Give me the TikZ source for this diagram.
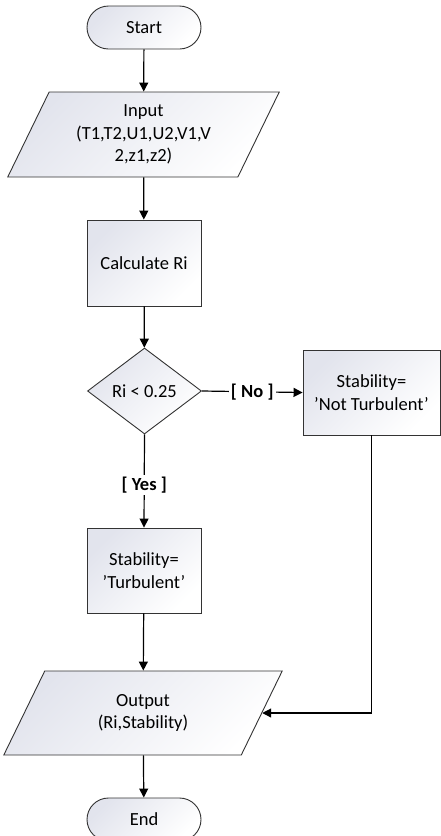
\documentclass[tikz,border=0pt]{standalone}
\usepackage{fontspec}
\setmainfont{Carlito}
\usetikzlibrary{arrows.meta,shapes.geometric,shapes.misc}
\definecolor{shade-fc}{RGB}{226,228,237}

\begin{document}
\begin{tikzpicture}[x=1pt, y=-1pt, >={Triangle[length=9pt,width=9pt]}, font=\fontsize{18.5}{22.5}\selectfont,
	   t/.style={draw=black!80, line width=0.9pt, rounded rectangle, top color=shade-fc, bottom color=white, shading angle=45, inner sep=0pt, minimum width=114pt, minimum height=43pt},
	   p/.style={draw=black!80, line width=0.9pt, rectangle, top color=shade-fc, bottom color=white, shading angle=45, align=center, inner sep=0pt, minimum width=114pt, minimum height=86pt},
	   io/.style={draw=black!80, line width=0.9pt, trapezium, trapezium left angle=64, trapezium right angle=116, top color=shade-fc, bottom color=white, shading angle=45, align=center, inner sep=1pt, minimum height=85pt},
	   d/.style={draw=black!80, line width=0.9pt, diamond, top color=shade-fc, bottom color=white, shading angle=45, inner sep=0pt, minimum width=114pt, minimum height=86pt},
	   lbl/.style={fill=white, font=\fontsize{18.5}{22.5}\selectfont\bfseries, inner sep=2pt}]
	  \useasboundingbox (0,0) rectangle (441,836);
	  \node[t] (start) at (144,27.5) {Start};
	  \node[io, minimum width=269pt] (in) at (143.5,134.5) {Input\\(T1,T2,U1,U2,V1,V\\2,z1,z2)};
	  \node[p] (calc) at (144,263) {Calculate Ri};
	  \node[d] (cond) at (144.5,391) {Ri < 0.25};
	  \node[p, minimum width=137pt, minimum height=85pt] (notturb) at (371.5,392.5) {Stability=\\’Not Turbulent’};
	  \node[p, minimum height=85pt] (turb) at (144,570.5) {Stability=\\’Turbulent’};
	  \node[io, minimum width=232pt, minimum height=84pt] (out) at (143,713) {Output\\(Ri,Stability)};
	  \node[t] (end) at (144,819.5) {End};
	  \draw[->, line width=1.2pt] (start)--(in); \draw[->, line width=1.2pt] (in)--(calc); \draw[->, line width=1.2pt] (calc)--(cond);
	  \draw[->, line width=1.2pt] (cond.east)--node[lbl]{[ No ]}(notturb.west);
	  \draw[->, line width=1.2pt] (cond.south)--node[lbl, pos=0.54]{[ Yes ]}(turb.north);
	  \draw[->, line width=1.2pt] (turb)--(out); \draw[->, line width=1.2pt] (notturb.south)|-(out.east); \draw[->, line width=1.2pt] (out)--(end);
	\end{tikzpicture}
\end{document}
